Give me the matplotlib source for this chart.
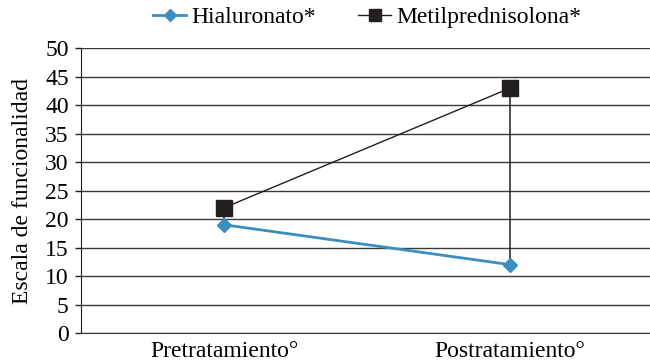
import matplotlib.pyplot as plt
import numpy as np

plt.rcParams['font.family'] = ['Liberation Serif', 'DejaVu Serif']

categorias = ['Pretratamiento°', 'Postratamiento°']
hialuronato = [19, 12]
metilpred = [22, 43]

fig = plt.figure(figsize=(6.5, 3.62), dpi=100)
ax = fig.add_axes([0.125, 0.08, 0.88, 0.787])

x = np.arange(len(categorias))

# lineas alto-bajo entre las dos series
ax.vlines(x, np.minimum(hialuronato, metilpred), np.maximum(hialuronato, metilpred),
          color='#231f20', lw=1.1, zorder=2)

ax.plot(x, hialuronato, color='#3a8fc0', lw=2, marker='D', ms=7.5,
        label='Hialuronato*', zorder=3)
ax.plot(x, metilpred, color='#231f20', lw=1, marker='s', ms=11,
        label='Metilprednisolona*', zorder=3)

ax.set_xlim(-0.5, 1.5)
ax.set_ylim(0, 50)
ax.set_yticks(np.arange(0, 51, 5))
ax.set_xticks(x)
ax.set_xticklabels(categorias, fontsize=17)
ax.tick_params(axis='x', length=0, pad=6)
ax.tick_params(axis='y', labelsize=17, length=4, width=1, pad=5, color='#231f20')
ax.yaxis.grid(True, color='#3a3a3a', lw=1)
ax.set_axisbelow(True)
for s in ['top', 'right']:
    ax.spines[s].set_visible(False)
ax.spines['left'].set_color('#231f20')
ax.spines['bottom'].set_color('#3a3a3a')
ax.set_ylabel('Escala de funcionalidad', fontsize=17, labelpad=9)

# leyenda centrada sobre el area de datos
ax.legend(loc='center', bbox_to_anchor=(0.565, 0.953), bbox_transform=fig.transFigure,
          ncol=2, frameon=False, fontsize=17, handlelength=1.4, handletextpad=0.2,
          columnspacing=1.8, borderaxespad=0, markerscale=0.75)

fig.savefig('out.png', dpi=100)
